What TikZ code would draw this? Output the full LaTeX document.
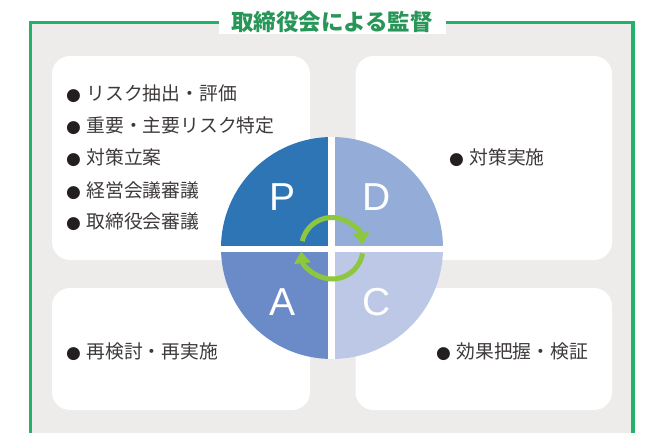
\documentclass[tikz,border=0pt]{standalone}
\usepackage{fontspec}
\setmainfont{Noto Sans CJK JP}
\newfontfamily\jpfont{Noto Sans CJK JP}
\newfontfamily\latinfont{Liberation Sans}
\newfontfamily\symfont{DejaVu Sans}
\usetikzlibrary{arrows.meta,calc}
\definecolor{framegreen}{RGB}{34,178,106}
\definecolor{titlegreen}{RGB}{40,150,88}
\definecolor{bggray}{RGB}{237,236,234}
\definecolor{pblue}{RGB}{46,117,182}
\definecolor{dblue}{RGB}{148,173,216}
\definecolor{ablue}{RGB}{107,139,200}
\definecolor{cblue}{RGB}{188,200,230}
\definecolor{arrowgreen}{RGB}{141,198,63}
\definecolor{txtgray}{RGB}{62,58,57}
\definecolor{dotcol}{RGB}{35,31,32}
\newcommand\pdcadot{{\symfont\fontsize{17}{17}\selectfont\textcolor{dotcol}{●}}\hspace{5.5pt}}
\begin{document}
\begin{tikzpicture}[x=1pt,y=-1pt,
  box/.style={fill=white, rounded corners=18pt},
  item/.style={anchor=west, inner sep=0pt, text=txtgray, font=\jpfont\fontsize{18.8}{18.8}\selectfont},
  letter/.style={text=white, inner sep=0pt, font=\latinfont\fontsize{39}{39}\selectfont},
  cyc/.style={draw=arrowgreen, line width=5pt, -{Triangle[width=16pt,length=12pt]}}
]
\useasboundingbox (0,0) rectangle (650,432);
\clip (0,0) rectangle (650,432);
% frame
\fill[bggray] (30.5,22.5) rectangle (633,460);
\draw[framegreen, line width=3.2pt] (30.5,460) -- (30.5,22.5) -- (633,22.5) -- (633,460);
\fill[white] (219,0) rectangle (446,33.5);
\node[font=\jpfont\bfseries\fontsize{22.5}{22.5}\selectfont, text=titlegreen, inner sep=0pt] (title) at (332,22) {取締役会による監督};
% boxes
\fill[box] (52,56) rectangle (310,260);
\fill[box] (355.5,56) rectangle (612,260);
\fill[box] (52,288) rectangle (310,410);
\fill[box] (355.5,288) rectangle (612,410);
% items
\node[item] (i1) at (66,94) {\pdcadot リスク抽出・評価};
\node[item] (i2) at (66,126) {\pdcadot 重要・主要リスク特定};
\node[item] (i3) at (66,158) {\pdcadot 対策立案};
\node[item] (i4) at (66,190.5) {\pdcadot 経営会議審議};
\node[item] (i5) at (66,222) {\pdcadot 取締役会審議};
\node[item] (d1) at (449,158) {\pdcadot 対策実施};
\node[item] (a1) at (66,352) {\pdcadot 再検討・再実施};
\node[item] (c1) at (436,352) {\pdcadot 効果把握・検証};
% PDCA circle
\fill[pblue] (332,248) -- (221,248) arc[start angle=180, end angle=270, radius=111] -- cycle;
\fill[dblue] (332,248) -- (332,137) arc[start angle=270, end angle=360, radius=111] -- cycle;
\fill[cblue] (332,248) -- (443,248) arc[start angle=0, end angle=90, radius=111] -- cycle;
\fill[ablue] (332,248) -- (332,359) arc[start angle=90, end angle=180, radius=111] -- cycle;
\begin{scope}
\clip (332,248) circle[radius=111];
\draw[white, line width=6.5pt] (331.5,130) -- (331.5,366);
\draw[white, line width=6pt] (214,248.5) -- (450,248.5);
\end{scope}
\node[letter] (lp) at (283,197) {P};
\node[letter] (ld) at (377,197) {D};
\node[letter] (la) at (283,302) {A};
\node[letter] (lc) at (377,302) {C};
\coordinate (cc) at (332,248);
\draw[cyc] ($(cc)+(193:30.5)$) arc[start angle=193, end angle=354, radius=30.5];
\draw[cyc] ($(cc)+(10:31)$) arc[start angle=10, end angle=174, radius=31];
\end{tikzpicture}
\end{document}
